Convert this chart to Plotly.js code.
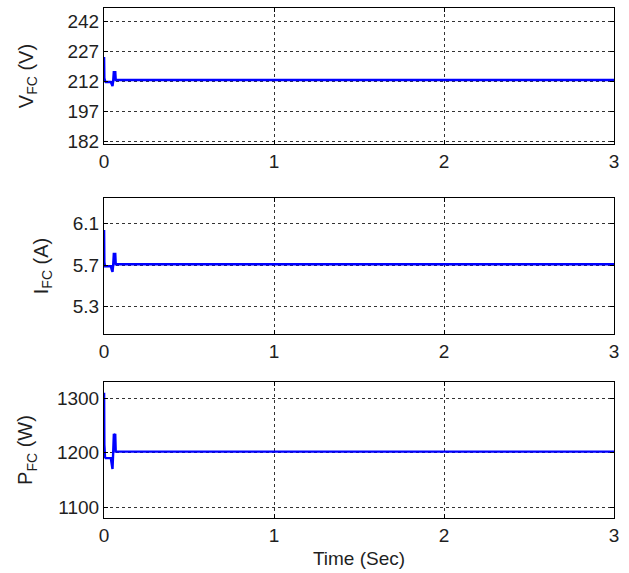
<!DOCTYPE html>
<html>
<head>
<meta charset="utf-8">
<script src="https://cdn.plot.ly/plotly-3.0.1.min.js"></script>
<style>html,body{margin:0;padding:0;background:#fff;}#plot{width:629px;height:573px;}</style>
</head>
<body>
<div id="plot"></div>
<script>
// Time samples (s)
const time = [0, 0.0005, 0.002, 0.006, 0.01, 0.04, 0.045, 0.05, 0.054, 0.058, 0.062, 0.066, 0.069, 0.072, 3];
// Fuel cell voltage (V)
const vfc = [212, 224, 213.5, 212, 211.5, 211.5, 210.5, 209.5, 212, 217, 212.5, 217, 212.5, 212.5, 212.5];
// Fuel cell current (A)
const ifc = [5.70, 6.04, 5.73, 5.69, 5.69, 5.69, 5.66, 5.635, 5.70, 5.82, 5.72, 5.82, 5.71, 5.71, 5.71];
// Fuel cell power (W)
const pfc = [1200, 1310, 1215, 1192, 1190, 1190, 1180, 1170, 1200, 1235, 1205, 1235, 1202, 1202, 1202];

const xTicks = [0, 1, 2, 3];
const vTicks = [182, 197, 212, 227, 242];
const iTicks = [5.3, 5.7, 6.1];
const pTicks = [1100, 1200, 1300];

const font = {family: 'Liberation Sans, Arial, sans-serif', size: 19, color: '#1f1f1f'};
const titleFont = {family: 'Liberation Sans, Arial, sans-serif', size: 20, color: '#1f1f1f'};
const lineStyle = {color: '#0000ff', width: 2.4};

function xax(anchor, title) {
  const a = {
    anchor: anchor, domain: [0, 1], range: [0, 3], tickvals: xTicks,
    showgrid: true, gridcolor: '#333', griddash: '3px,3px', gridwidth: 1,
    zeroline: false, showline: true, linecolor: '#000', linewidth: 1, mirror: 'ticks',
    ticks: 'inside', ticklen: 4, tickcolor: '#000', tickfont: font
  };
  if (title) a.title = {text: title, font: font, standoff: 6};
  return a;
}
function yax(anchor, domain, range, ticks, title, standoff) {
  return {
    anchor: anchor, domain: domain, range: range, tickvals: ticks,
    showgrid: true, gridcolor: '#333', griddash: '3px,3px', gridwidth: 1,
    zeroline: false, showline: true, linecolor: '#000', linewidth: 1, mirror: 'ticks',
    ticks: 'inside', ticklen: 4, tickcolor: '#000', tickfont: font,
    title: {text: title, font: titleFont, standoff: standoff}
  };
}

const data = [
  {x: time, y: vfc, xaxis: 'x', yaxis: 'y', mode: 'lines', line: lineStyle, showlegend: false},
  {x: time, y: ifc, xaxis: 'x2', yaxis: 'y2', mode: 'lines', line: lineStyle, showlegend: false},
  {x: time, y: pfc, xaxis: 'x3', yaxis: 'y3', mode: 'lines', line: lineStyle, showlegend: false}
];

const layout = {
  width: 629, height: 573,
  margin: {l: 104, r: 15, t: 8, b: 55},
  paper_bgcolor: '#fff', plot_bgcolor: '#fff',
  font: font,
  xaxis: xax('y'),
  yaxis: yax('x', [0.7333, 1], [180.5, 248.5], vTicks, 'V<sub>FC</sub> (V)', 28),
  xaxis2: xax('y2'),
  yaxis2: yax('x2', [0.3608, 0.6275], [5.035, 6.35], iTicks, 'I<sub>FC</sub> (A)', 18),
  xaxis3: xax('y3', 'Time (Sec)'),
  yaxis3: yax('x3', [0, 0.2667], [1080, 1330], pTicks, 'P<sub>FC</sub> (W)', 18)
};

Plotly.newPlot('plot', data, layout, {displayModeBar: false, staticPlot: true});
</script>
</body>
</html>
